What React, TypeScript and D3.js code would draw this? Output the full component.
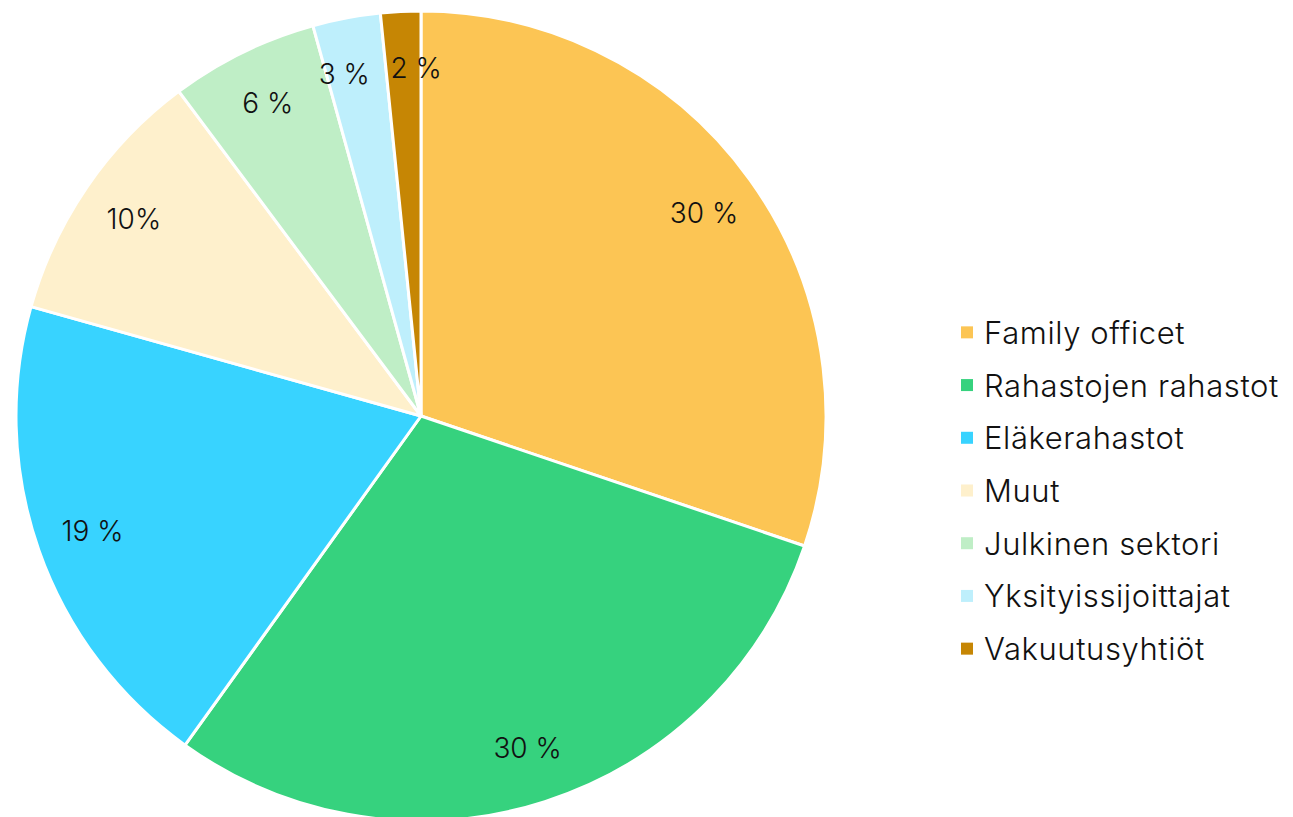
import React from "react";
import * as d3 from "d3";

const categories = [
  "Family officet",
  "Rahastojen rahastot",
  "Eläkerahastot",
  "Muut",
  "Julkinen sektori",
  "Yksityissijoittajat",
  "Vakuutusyhtiöt",
];
const values = [30.2, 29.7, 19.45, 10.45, 5.9, 2.7, 1.6];
const valueLabels = ["30 %", "30 %", "19 %", "10%", "6 %", "3 %", "2 %"];
const colors = ["#FCC554", "#36D27E", "#38D3FF", "#FEF0CC", "#BFEEC6", "#BEEFFC", "#C68604"];

const W = 1293;
const H = 817;
const FONT = "Inter, 'Noto Sans', sans-serif";

export default function App() {
  const cx = 421;
  const cy = 416;
  const r = 405;
  const data = categories.map((c, i) => ({ name: c, value: values[i], label: valueLabels[i], color: colors[i] }));
  const pie = d3.pie<any>().value((d) => d.value).sort(null);
  const arcs = pie(data);
  const arc = d3.arc<any>().innerRadius(0).outerRadius(r);
  const labelArc = d3.arc<any>().innerRadius(r * 0.86).outerRadius(r * 0.86);
  const legendY = d3.scaleBand().domain(categories).range([306, 675]).paddingInner(0);

  // label positions with simple horizontal overlap resolution
  const pos = arcs.map((a) => labelArc.centroid(a) as [number, number]);
  const minSep = 72;
  for (let iter = 0; iter < 5; iter++) {
    for (let i = 0; i < pos.length; i++) {
      const j = (i + 1) % pos.length;
      const dx = pos[j][0] - pos[i][0];
      const dy = pos[j][1] - pos[i][1];
      if (Math.abs(dy) < 40 && Math.abs(dx) < minSep) {
        const push = (minSep - Math.abs(dx)) / 2;
        const s = dx >= 0 ? 1 : -1;
        pos[i][0] -= s * push;
        pos[j][0] += s * push;
      }
    }
  }

  return (
    <svg width={W} height={H} style={{ position: "absolute", left: 0, top: 0, background: "#fff" }}>
      <g transform={`translate(${cx},${cy})`}>
        {arcs.map((a, i) => (
          <path key={i} d={arc(a) || ""} fill={a.data.color} stroke="#fff" strokeWidth={3} strokeLinejoin="round" />
        ))}
        {arcs.map((a, i) => (
          <text key={i} x={pos[i][0]} y={pos[i][1]} textAnchor="middle" dominantBaseline="central" fontFamily={FONT} fontWeight={300} fontSize={28} fill="#111">
            {a.data.label}
          </text>
        ))}
      </g>
      <g>
        {categories.map((c, i) => {
          const y = (legendY(c) || 0) + legendY.bandwidth() / 2;
          return (
            <g key={c}>
              <rect x={961} y={y - 6} width={12} height={12} fill={colors[i]} />
              <text x={984} y={y} dominantBaseline="central" fontFamily={FONT} fontWeight={300} fontSize={31} letterSpacing={0.6} fill="#111">
                {c}
              </text>
            </g>
          );
        })}
      </g>
    </svg>
  );
}
